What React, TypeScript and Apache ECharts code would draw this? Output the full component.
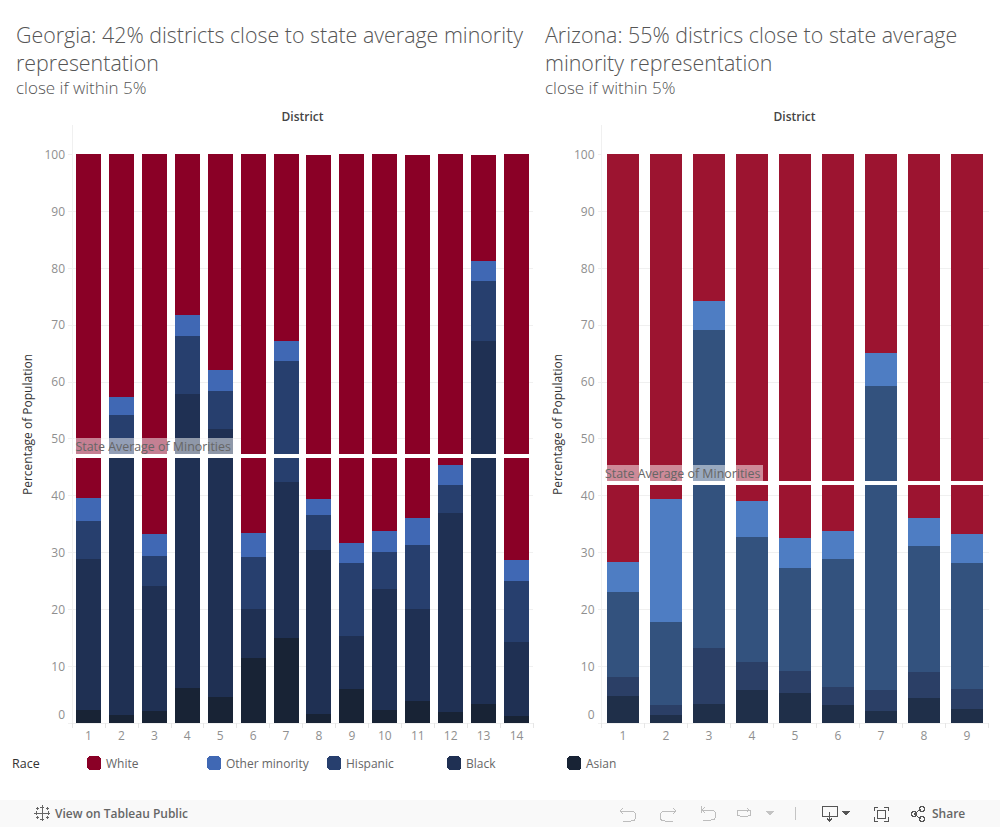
import React, { useEffect, useRef } from "react";
import * as echarts from "echarts";

const gaDistricts = ["1","2","3","4","5","6","7","8","9","10","11","12","13","14"];
const gaAsian = [2.3,1.4,2.1,6.2,4.6,11.4,14.9,1.6,6.0,2.3,3.9,1.9,3.3,1.2];
const gaBlack = [26.5,45.6,22.0,51.7,47.1,8.6,27.5,28.8,9.3,21.2,16.1,35.0,63.9,13.0];
const gaHispanic = [6.7,7.2,5.2,10.1,6.7,9.2,21.3,6.2,12.8,6.6,11.3,5.0,10.5,10.8];
const gaOther = [4.0,3.1,3.9,3.7,3.7,4.2,3.5,2.8,3.5,3.6,4.7,3.5,3.5,3.6];
const gaWhite = [60.5,42.7,66.8,28.3,37.9,66.6,32.8,60.4,68.4,66.3,63.8,54.6,18.6,71.4];
const gaAverage = 46.96;

const azDistricts = ["1","2","3","4","5","6","7","8","9"];
const azAsian = [4.7,1.4,3.3,5.8,5.3,3.2,2.1,4.4,2.5];
const azBlack = [3.4,1.8,9.9,4.9,3.8,3.1,3.7,4.6,3.5];
const azHispanic = [14.9,14.6,55.9,22.0,18.1,22.5,53.5,22.1,22.1];
const azOther = [5.3,21.6,5.1,6.4,5.3,4.9,5.8,5.0,5.1];
const azWhite = [71.7,60.6,25.8,60.9,67.5,66.3,34.9,63.9,66.8];
const azAverage = 42.2;

const raceNames = ["Asian","Black","Hispanic","Other minority","White"];
const legendOrder = ["White","Other minority","Hispanic","Black","Asian"];
const gaColors = ["#182335","#1f3053","#273f6e","#4068b4","#8a0026"];
const azColors = ["#1f2f49","#2b3f66","#33527e","#4e7dc3","#9c1430"];
const yTicks = [0,10,20,30,40,50,60,70,80,90,100];

const FONT = "'Open Sans', sans-serif";
const GRID = "#f0f0f0";
const LABEL = "#8f8f8f";

const icons: Record<string,string> = {
  tabLogo: "M8 2V14M2 8H14M8 0V4M6 2H10M8 12V16M6 14H10M0 8H4M2 6V10M12 8H16M14 6V10M3 2V5M1.5 3.5H4.500M13 2V5M11.500 3.500H14.500M3 11V14M1.5 12.500H4.500M13 11V14M11.500 12.500H14.500",
  undo: "M0 4H11C14 4 16 6 16 9C16 12 14 14 11 14H3M3 1L0 4L3 7",
  redo: "M16 4H5C2 4 0 6 0 9C0 12 2 14 5 14H13M13 1L16 4L13 7",
  revert: "M1 0V7M1 4H11C14 4 16 6 16 9C16 12 14 14 11 14H3M5 1L2 4L5 7",
  refresh: "M4 2H12C14 2 15 3.500 15 5C15 6.500 14 8 12 8H4C2 8 1 6.500 1 5C1 3.500 2 2 4 2M11 0L13 2L11 4",
  download: "M0 0H15V10H0ZM7.500 6V15M5 12.500L7.500 15L10 12.500",
  full: "M1 5V1H5M11 1H15V5M15 11V15H11M5 15H1V11M4 4H12V12H4Z",
  share: "M3 8L10 3M3 8L10 13M3 5.500A2.500 2.500 0 1 1 2.990 5.500M11 0.500A2.500 2.500 0 1 1 10.990 0.500M11 10.500A2.500 2.500 0 1 1 10.990 10.500",
  tri: "M0 0H8L4 5Z",
};
Object.keys(icons).forEach((k) => {
  echarts.graphic.registerShape("tb_" + k, echarts.graphic.extendPath(icons[k], {}) as any);
});

function icon(name: string, x: number, y: number, color: string, fill = false) {
  return {
    type: "tb_" + name, x, y, silent: true,
    style: fill ? { fill: color, stroke: "none" } : { fill: "none", stroke: color, lineWidth: 1 },
  };
}

function text(t: string, x: number, y: number, size: number, color: string, weight: any = 400, align = "left") {
  return {
    type: "text", x, y, silent: true,
    style: { text: t, fontSize: size, fill: color, fontFamily: FONT, fontWeight: weight, textAlign: align, textVerticalAlign: "middle" },
  };
}

function buildSeries(idx: number, stack: string, values: number[][], colors: string[], barWidth: number, average: number) {
  return values.map((data, i) => ({
    name: raceNames[i], type: "bar", stack, xAxisIndex: idx, yAxisIndex: idx, data, barWidth,
    itemStyle: { color: colors[i] },
    emphasis: { disabled: true },
    ...(i === values.length - 1 ? {
      markLine: {
        silent: true, symbol: ["none","none"], animation: false, z: 10,
        lineStyle: { color: "#ffffff", width: 4, type: "solid" },
        data: [{ yAxis: average }],
        label: {
          show: true, position: "insideStartTop", distance: 2,
          formatter: "State Average of Minorities",
          fontFamily: FONT, fontSize: 12.4, color: "#666666",
          backgroundColor: "rgba(255,255,255,0.5)", padding: [2, 3, 2, 1.5],
        },
      },
    } : {}),
  }));
}

function xAxis(idx: number, data: string[]) {
  return {
    type: "category", gridIndex: idx, data,
    axisLine: { show: true, lineStyle: { color: GRID } },
    axisTick: { show: true, length: 5, lineStyle: { color: "#e6e6e6" } },
    axisLabel: { color: LABEL, fontSize: 12, fontFamily: FONT, margin: 6 },
    splitLine: { show: false },
  };
}

function yAxis(idx: number) {
  return {
    type: "value", gridIndex: idx, min: 0, max: 105, interval: 10,
    name: "Percentage of Population", nameLocation: "middle", nameGap: 38.5,
    nameTextStyle: { color: "#333333", fontSize: 12, fontFamily: FONT },
    axisLine: { show: true, lineStyle: { color: GRID } },
    axisTick: { show: true, length: 4, lineStyle: { color: GRID }, customValues: yTicks },
    axisLabel: {
      color: LABEL, fontSize: 12, fontFamily: FONT, margin: 7,
      customValues: yTicks, verticalAlignMinLabel: "bottom",
      formatter: (v: number) => (v === 0 ? "{z|0}" : String(v)),
      rich: { z: { color: LABEL, fontSize: 12, fontFamily: FONT, padding: [0, 0, 3, 0] } },
    },
    splitLine: { show: true, showMaxLine: false, lineStyle: { color: GRID, width: 1 } },
  };
}

export default function App() {
  const ref = useRef<HTMLDivElement>(null);
  useEffect(() => {
    if (!ref.current) return;
    const chart = echarts.init(ref.current, undefined, { renderer: "svg" });
    const TITLE = "#555555";
    chart.setOption({
      animation: false,
      backgroundColor: "#ffffff",
      grid: [
        { left: 72, width: 461, top: 125.8, height: 597.4 },
        { left: 601.5, width: 387, top: 125.8, height: 597.4 },
      ],
      xAxis: [xAxis(0, gaDistricts), xAxis(1, azDistricts)],
      yAxis: [yAxis(0), yAxis(1)],
      legend: legendOrder.map((name, i) => ({
        data: [name], left: 87 + i * 120, top: 756, padding: 0, itemWidth: 14, itemHeight: 14, itemGap: 5,
        icon: "roundRect", selectedMode: false,
        textStyle: { color: "#666666", fontSize: 12, fontFamily: FONT, padding: [0, 0, 0, 0] },
      })),
      series: [
        ...buildSeries(0, "ga", [gaAsian, gaBlack, gaHispanic, gaOther, gaWhite], gaColors, 25, gaAverage),
        ...buildSeries(1, "az", [azAsian, azBlack, azHispanic, azOther, azWhite], azColors, 32, azAverage),
      ],
      graphic: [
        text("Georgia: 42% districts close to state average minority", 16, 34, 21.4, TITLE, 300),
        text("representation", 16, 62, 21.4, TITLE, 300),
        text("close if within 5%", 16, 87, 17, TITLE, 300),
        text("Arizona: 55% districs close to state average", 545, 34, 21.4, TITLE, 300),
        text("minority representation", 545, 62, 21.4, TITLE, 300),
        text("close if within 5%", 545, 87, 17, TITLE, 300),
        text("District", 302.5, 116.500, 12, "#444444", 600, "center"),
        text("District", 794.5, 116.500, 12, "#444444", 600, "center"),
        text("Race", 12, 763.5, 12.5, "#333333", 400),
        { type: "rect", silent: true, z: -1, shape: { x: 0, y: 800, width: 1000, height: 27 }, style: { fill: "#f9f9f9" } },
        icon("tabLogo", 34, 805, "#666666"),
        text("View on Tableau Public", 55, 813.5, 12, "#666666", 600),
        icon("undo", 620, 807, "#bdbdbd"),
        icon("redo", 660, 807, "#bdbdbd"),
        icon("revert", 700, 806, "#bdbdbd"),
        icon("refresh", 736, 808, "#bdbdbd"),
        icon("tri", 766, 811, "#c4c4c4", true),
        { type: "line", silent: true, shape: { x1: 795.500, y1: 807, x2: 795.500, y2: 820 }, style: { stroke: "#c4c4c4", lineWidth: 1 } },
        icon("download", 822, 806, "#555555"),
        icon("tri", 842, 811, "#555555", true),
        icon("full", 873, 806, "#555555"),
        icon("share", 911, 806, "#555555"),
        text("Share", 932, 813.5, 12, "#666666", 600),
      ],
    });
    const svg = ref.current.querySelector("svg");
    if (svg) (svg as SVGElement).style.shapeRendering = "crispEdges";
    return () => chart.dispose();
  }, []);
  return <div ref={ref} style={{ position: "absolute", left: 0, top: 0, width: 1000, height: 827 }} />;
}
